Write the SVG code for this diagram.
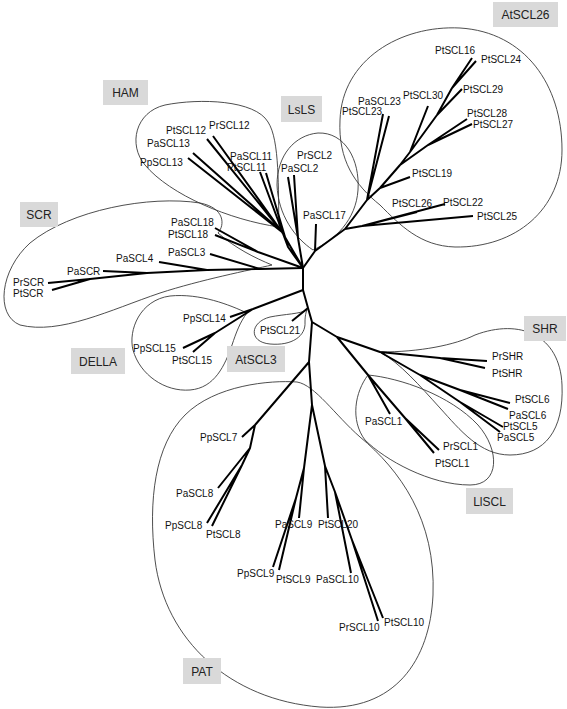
<svg xmlns="http://www.w3.org/2000/svg" width="567" height="709" viewBox="0 0 567 709">
<style>
.e{stroke:#000;stroke-width:2;fill:none;stroke-linejoin:round;stroke-linecap:butt}
.o{stroke:#3a3a3a;stroke-width:0.9;fill:none}
.t{font-family:'Liberation Sans',Arial,sans-serif;font-size:10px;fill:#111}
.b{fill:#d9d9d9}
.bt{font-family:'Liberation Sans',Arial,sans-serif;font-size:12px;fill:#222;text-anchor:middle}
</style>
<rect width="567" height="709" fill="#fff"/>
<g id="outlines">
<path class="o" d="M340,120 C342,60 400,25 460,28 C525,32 562,85 562,150 C562,210 515,248 455,247 C420,246 400,225 380,205 C355,185 338,160 340,120 Z"/>
<path class="o" d="M313,250 C295,238 278,215 277,185 C277,155 295,135 318,133 C345,132 360,160 358,190 C356,220 335,240 313,250 Z"/>
<path class="o" d="M279,227 C278,190 280,140 268,122 C255,100 200,98 165,105 C135,112 128,145 145,165 C170,195 230,220 279,227 Z"/>
<path class="o" d="M272,265 C250,270 200,280 160,293 C110,310 60,335 20,325 C-5,315 0,270 30,243 C70,210 150,195 200,203 C225,208 225,225 218,233 C235,248 255,258 272,265 Z"/>
<path class="o" d="M247,313 C230,305 200,293 170,296 C140,300 128,330 133,350 C140,375 165,392 190,390 C215,388 225,365 232,345 C236,333 240,322 247,313 Z"/>
<path class="o" d="M307,310 C300,314 285,314 270,317 C250,322 248,342 270,344 C292,346 306,336 305,322 C305,316 306,312 307,310 Z"/>
<path class="o" d="M380,352 C420,352 455,345 475,335 C520,318 560,335 562,385 C564,430 545,455 510,455 C480,455 460,430 440,408 C420,386 400,363 380,352 Z"/>
<path class="o" d="M368,375 C400,378 450,395 478,425 C500,450 500,485 470,485 C430,485 385,460 365,440 C350,420 355,392 368,375 Z"/>
<path class="o" d="M297,382 C270,380 215,385 185,415 C155,445 148,500 155,560 C165,640 230,700 320,707 C395,712 430,660 433,595 C436,520 400,470 360,437 C335,415 315,385 297,382 Z"/>
</g>
<g id="connectors">
<path class="e" d="M303,268 L303,290 L308,308 L312,322"/>
<path class="e" d="M303,268 L315,251 L345,229 M315,251 L316,224 M345,229 L362,226 L473,216 M362,226 L445,204 M362,226 L417,212 M345,229 L367,200 L383,114 M367,200 L389,116 M367,200 L380,188 L410,177 M380,188 L400,165 L428,145 L467,119 M428,145 L472,124 M400,165 L410,152 L428,106 M410,152 L437,115 L462,89 M437,115 L452,88 L472,58 M452,88 L476,61"/>
<path class="e" d="M303,268 L298,238 L288,177 M298,238 L294,175 M303,268 L288,247 L260,172 M288,247 L266,173 M303,268 L282,232 L207,139 M282,232 L213,136 M282,232 L193,153 M282,232 L188,158"/>
<path class="e" d="M303,268 L258,252 L215,228 M258,252 L215,235 M303,268 L260,269 L210,254 M260,269 L207,270 L159,262 M207,270 L147,273 L103,271 M147,273 L90,279 L48,283 M90,279 L52,290"/>
<path class="e" d="M303,290 L253,309 L230,317 M253,309 L215,333 L183,348 M215,333 L193,352 M308,308 L292,321"/>
<path class="e" d="M312,322 L337,337 L380,352 L440,358 L487,361 M440,358 L485,368 M380,352 L420,375 L460,390 L510,403 M460,390 L508,409 M420,375 L460,402 L503,427 M460,402 L500,432 M337,337 L368,375 L390,414 M368,375 L405,418 L439,450 M405,418 L434,453"/>
<path class="e" d="M312,322 L309,362 L312,405 M309,362 L255,425 L242,437 M255,425 L250,448 L218,488 M250,448 L242,465 L207,523 M242,465 L212,526 M312,405 L304,468 L299,518 M304,468 L296,498 L273,567 M296,498 L279,570 M312,405 L325,466 L328,518 M325,466 L335,492 L351,573 M335,492 L352,540 L378,621 M352,540 L383,618"/>
</g>
<g id="clade-AtSCL26"><rect class="b" x="493" y="2" width="65" height="25"/><text class="bt" x="525.5" y="19">AtSCL26</text></g>
<g id="clade-HAM"><rect class="b" x="103" y="80" width="45" height="25"/><text class="bt" x="125.5" y="97">HAM</text></g>
<g id="clade-LsLS"><rect class="b" x="281" y="96" width="41" height="26"/><text class="bt" x="301.5" y="113.5">LsLS</text></g>
<g id="clade-SCR"><rect class="b" x="20" y="202" width="38" height="25"/><text class="bt" x="39" y="219">SCR</text></g>
<g id="clade-DELLA"><rect class="b" x="71" y="348" width="54" height="26"/><text class="bt" x="98" y="365.5">DELLA</text></g>
<g id="clade-AtSCL3"><rect class="b" x="227" y="346" width="58" height="26"/><text class="bt" x="256" y="363.5">AtSCL3</text></g>
<g id="clade-SHR"><rect class="b" x="524" y="316" width="42" height="25"/><text class="bt" x="545" y="333">SHR</text></g>
<g id="clade-LlSCL"><rect class="b" x="466" y="488" width="47" height="26"/><text class="bt" x="489.5" y="505.5">LlSCL</text></g>
<g id="clade-PAT"><rect class="b" x="183" y="658" width="38" height="26"/><text class="bt" x="202" y="675.5">PAT</text></g>
<g id="leaves">
<g id="PtSCL16"><text class="t" x="435" y="53.5">PtSCL16</text></g>
<g id="PtSCL24"><text class="t" x="481" y="62.5">PtSCL24</text></g>
<g id="PtSCL29"><text class="t" x="463" y="92.5">PtSCL29</text></g>
<g id="PtSCL28"><text class="t" x="467" y="116.5">PtSCL28</text></g>
<g id="PtSCL27"><text class="t" x="473" y="127.5">PtSCL27</text></g>
<g id="PtSCL30"><text class="t" x="403" y="99">PtSCL30</text></g>
<g id="PaSCL23"><text class="t" x="358" y="104.5">PaSCL23</text></g>
<g id="PtSCL23"><text class="t" x="342" y="114.5">PtSCL23</text></g>
<g id="PtSCL19"><text class="t" x="412" y="176.5">PtSCL19</text></g>
<g id="PtSCL26"><text class="t" x="392" y="206.5">PtSCL26</text></g>
<g id="PtSCL22"><text class="t" x="443" y="205.5">PtSCL22</text></g>
<g id="PtSCL25"><text class="t" x="477" y="219.5">PtSCL25</text></g>
<g id="PrSCL2"><text class="t" x="297" y="158.5">PrSCL2</text></g>
<g id="PaSCL2"><text class="t" x="281" y="171.5">PaSCL2</text></g>
<g id="PaSCL17"><text class="t" x="303" y="218.5">PaSCL17</text></g>
<g id="PtSCL12"><text class="t" x="166" y="133.5">PtSCL12</text></g>
<g id="PrSCL12"><text class="t" x="209" y="128.5">PrSCL12</text></g>
<g id="PaSCL13"><text class="t" x="147" y="146.5">PaSCL13</text></g>
<g id="PpSCL13"><text class="t" x="140" y="165.5">PpSCL13</text></g>
<g id="PaSCL11"><text class="t" x="230" y="159.5">PaSCL11</text></g>
<g id="PtSCL11"><text class="t" x="227" y="170.5">PtSCL11</text></g>
<g id="PaSCL18"><text class="t" x="171" y="225.5">PaSCL18</text></g>
<g id="PtSCL18"><text class="t" x="168" y="237.5">PtSCL18</text></g>
<g id="PaSCL3"><text class="t" x="168" y="255.5">PaSCL3</text></g>
<g id="PaSCL4"><text class="t" x="116" y="261.5">PaSCL4</text></g>
<g id="PaSCR"><text class="t" x="67" y="274.5">PaSCR</text></g>
<g id="PrSCR"><text class="t" x="13" y="285.5">PrSCR</text></g>
<g id="PtSCR"><text class="t" x="13" y="296.5">PtSCR</text></g>
<g id="PpSCL14"><text class="t" x="183" y="321.5">PpSCL14</text></g>
<g id="PpSCL15"><text class="t" x="133" y="351.5">PpSCL15</text></g>
<g id="PtSCL15"><text class="t" x="172" y="363.5">PtSCL15</text></g>
<g id="PtSCL21"><text class="t" x="260" y="333.5">PtSCL21</text></g>
<g id="PrSHR"><text class="t" x="492" y="359.5">PrSHR</text></g>
<g id="PtSHR"><text class="t" x="492" y="376.5">PtSHR</text></g>
<g id="PtSCL6"><text class="t" x="515" y="402.5">PtSCL6</text></g>
<g id="PaSCL6"><text class="t" x="509" y="418.5">PaSCL6</text></g>
<g id="PtSCL5"><text class="t" x="503" y="429.5">PtSCL5</text></g>
<g id="PaSCL5"><text class="t" x="497" y="440.5">PaSCL5</text></g>
<g id="PaSCL1"><text class="t" x="365" y="424.5">PaSCL1</text></g>
<g id="PrSCL1"><text class="t" x="443" y="449.5">PrSCL1</text></g>
<g id="PtSCL1"><text class="t" x="435" y="466.5">PtSCL1</text></g>
<g id="PpSCL7"><text class="t" x="200" y="440.5">PpSCL7</text></g>
<g id="PaSCL8"><text class="t" x="176" y="496.5">PaSCL8</text></g>
<g id="PpSCL8"><text class="t" x="165" y="528.5">PpSCL8</text></g>
<g id="PtSCL8"><text class="t" x="206" y="537.5">PtSCL8</text></g>
<g id="PaSCL9"><text class="t" x="275" y="527.5">PaSCL9</text></g>
<g id="PtSCL20"><text class="t" x="318" y="527.5">PtSCL20</text></g>
<g id="PpSCL9"><text class="t" x="237" y="576.5">PpSCL9</text></g>
<g id="PtSCL9"><text class="t" x="276" y="582.5">PtSCL9</text></g>
<g id="PaSCL10"><text class="t" x="316" y="582.5">PaSCL10</text></g>
<g id="PrSCL10"><text class="t" x="339" y="630.5">PrSCL10</text></g>
<g id="PtSCL10"><text class="t" x="384" y="625.5">PtSCL10</text></g>
</g>
</svg>
